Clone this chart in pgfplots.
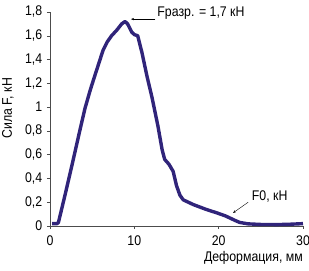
\documentclass[border=0pt]{standalone}
\usepackage{fontspec}
\setmainfont{Liberation Sans}[FakeStretch=0.88]
\usepackage{pgfplots}
\pgfplotsset{compat=1.18}
\usetikzlibrary{arrows.meta}
\definecolor{curve}{RGB}{48,36,122}
\begin{document}
\fontsize{14}{16}\selectfont
\begin{tikzpicture}
\begin{axis}[name=ax,
  scale only axis, width=253pt, height=214pt,
  xmin=0, xmax=30, ymin=0, ymax=1.8,
  axis lines=left, axis line style={-, thin, black!70},
  xtick={0,10,20,30}, ytick={0,0.2,...,1.8},
  tick align=outside, major tick length=3pt,
  tick style={black!70, thin},
  xticklabel style={yshift=-2pt},
  /pgf/number format/use comma, /pgf/number format/assume math mode=true,
  yticklabel style={/pgf/number format/fixed},
  xlabel={Деформация, мм}, ylabel={Сила F, кН},
  xlabel style={at={(axis description cs:1.0,-0.15)}, anchor=east, inner sep=0pt},
  ylabel style={at={(axis description cs:-0.166,0.55)}, anchor=center, rotate=0, inner sep=0pt},
  clip=false,
]
\addplot[curve, line width=3.4pt, line join=round] coordinates {
(0.25,0.02) (0.85,0.02) (1.0,0.03) (1.78,0.26) (2.6,0.51) (3.56,0.81) (4.15,0.99) (4.8,1.15) (5.34,1.27) (6.3,1.48) (6.8,1.55) (7.3,1.60) (7.95,1.65) (8.5,1.70) (8.9,1.72) (9.2,1.70) (9.7,1.63) (10.0,1.61) (10.4,1.60) (10.9,1.46) (11.5,1.26) (12.1,1.08) (12.8,0.84) (13.3,0.64) (13.6,0.56) (14.1,0.52) (14.6,0.46) (15.0,0.34) (15.4,0.26) (15.8,0.22) (17,0.18) (18.5,0.14) (19.8,0.11) (20.8,0.085) (21.4,0.065) (22.0,0.045) (22.5,0.03) (23.5,0.018) (25,0.013) (27,0.012) (28.5,0.015) (30,0.02)
};
\draw[-{Stealth[length=3pt]}, thin] (axis cs:12.5,1.74) -- (axis cs:9.6,1.74);
\node[anchor=west, inner sep=1pt] at (axis cs:12.6,1.79) {Fразр. = 1,7 кН};
\draw[-{Stealth[length=3pt]}, thin] (axis cs:23.5,0.2) -- (axis cs:21.7,0.11);
\node[anchor=west, inner sep=1pt] at (axis cs:23.8,0.245) {F0, кН};
\end{axis}
\pgfresetboundingbox
\path ([xshift=-50pt,yshift=-44pt]ax.south west) rectangle ([xshift=6pt,yshift=12pt]ax.north east);
\end{tikzpicture}
\end{document}
